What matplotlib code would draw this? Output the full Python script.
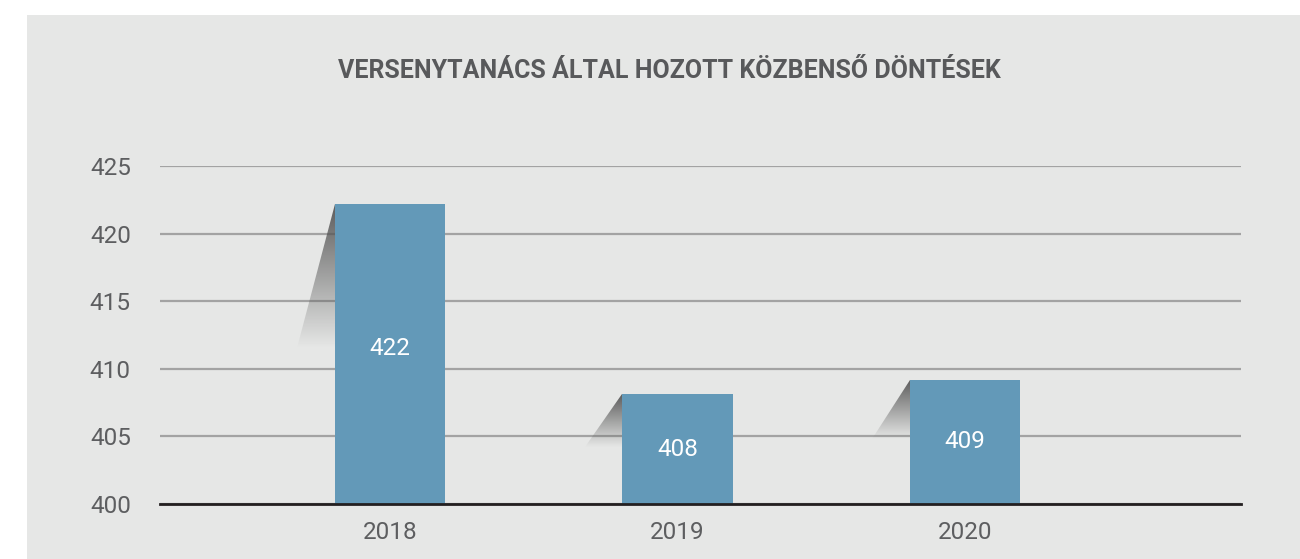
import numpy as np
import matplotlib
matplotlib.use("Agg")
import matplotlib.pyplot as plt
from matplotlib.patches import Polygon, Rectangle

# ---- data ----
years = ["2018", "2019", "2020"]
values = [422.2, 408.1, 409.2]
value_labels = ["422", "408", "409"]
yticks = [400, 405, 410, 415, 420, 425]
title = "VERSENYTANÁCS ÁLTAL HOZOTT KÖZBENSŐ DÖNTÉSEK"

W, H = 1300, 559
fig = plt.figure(figsize=(W / 100, H / 100), dpi=100)
fig.patch.set_facecolor("white")
fig.patches.append(Rectangle((27 / W, 0), 1, 1 - 15 / H, transform=fig.transFigure,
                             facecolor="#e6e7e6", edgecolor="none", zorder=-10))

ax = fig.add_axes([160 / W, 1 - 504 / H, 1081 / W, (504 - 166) / H])
ax.set_facecolor("none")

x = np.arange(len(years))
bw = 0.386
ymin, ymax = 400, 425
ax.set_xlim(-0.8, 2.96)
ax.set_ylim(ymin, ymax)

ax.set_yticks(yticks)
ax.yaxis.grid(True, color="#a3a3a3", linewidth=1.6)
ax.set_axisbelow(True)
for s in ["top", "right", "left"]:
    ax.spines[s].set_visible(False)
ax.spines["bottom"].set_color("#231f20")
ax.spines["bottom"].set_linewidth(2)
ax.spines["bottom"].set_zorder(5)

tick_font = dict(family=["Roboto", "DejaVu Sans"], weight="normal")
ax.tick_params(axis="both", length=0, colors="#5d5e60", labelsize=17.5)
ax.tick_params(axis="y", pad=21)
ax.tick_params(axis="x", pad=12)
ax.set_xticks(x)
ax.set_xticklabels(years, **tick_font)
ax.set_yticklabels([str(t) for t in yticks], **tick_font)

# shadows
grad = np.zeros((256, 2, 4))
grad[..., 0:3] = 0.33
grad[..., 3] = np.linspace(0.95, 0.0, 256)[:, None]
for xi, v in zip(x, values):
    left = xi - bw / 2
    top = v
    bottom = top - 0.48 * (v - ymin)
    dx = 0.13
    poly = Polygon([(left, top), (left, bottom), (left - dx, bottom)], closed=True,
                   transform=ax.transData, facecolor="none", edgecolor="none")
    ax.add_patch(poly)
    im = ax.imshow(grad, extent=(left - dx, left, bottom, top), aspect="auto",
                   origin="upper", zorder=1.5, interpolation="bilinear")
    im.set_clip_path(poly)

ax.bar(x, [v - ymin for v in values], bottom=ymin, width=bw, color="#6399b8", zorder=3)
for xi, v, lab in zip(x, values, value_labels):
    ax.text(xi, ymin + 0.528 * (v - ymin) - 0.22, lab, ha="center", va="center",
            color="white", fontsize=17.5, zorder=4, **tick_font)

ax.set_xlim(-0.8, 2.96)
ax.set_ylim(ymin, ymax)

fig.text(669 / W, 1 - 71 / H, title, ha="center", va="center", color="#58595b",
         fontsize=18, fontweight="bold", family=["Roboto", "DejaVu Sans"])

fig.savefig("out.png", dpi=100)
